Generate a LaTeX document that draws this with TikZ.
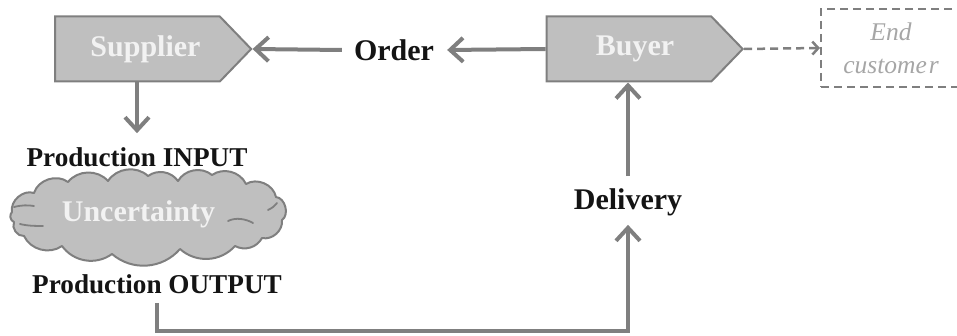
\documentclass[tikz,border=0pt]{standalone}
\usepackage{fontspec}
\setmainfont{Liberation Serif}
\usetikzlibrary{arrows.meta,shapes.symbols,calc}
\definecolor{edgegray}{HTML}{7F7F7F}
\definecolor{boxgray}{HTML}{BFBFBF}
\definecolor{paletext}{HTML}{F2F2F2}
\definecolor{softtext}{HTML}{A6A6A6}
\definecolor{inktext}{HTML}{141414}
\tikzset{
  actor/.style={shape=signal, signal to=east, signal pointer angle=92,
    draw=edgegray, fill=boxgray, line width=2pt, inner sep=0pt,
    minimum width=196pt, minimum height=65pt,
    text=paletext, font=\fontsize{30}{34}\selectfont\bfseries},
  label/.style={text=inktext, inner sep=2pt, font=\fontsize{30}{34}\selectfont\bfseries},
  stage/.style={text=inktext, inner sep=2pt, font=\fontsize{27.2}{32}\selectfont\bfseries},
  flow/.style={draw=edgegray, line width=4pt,
    -{Straight Barb[length=13pt,width=24pt,line width=4pt]}},
  hint/.style={draw=edgegray, line width=2.5pt, dash pattern=on 8pt off 5pt,
    -{Straight Barb[length=6pt,width=13pt,line width=2.5pt]}},
  puff/.style={bend left=#1},
}
\begin{document}
\begin{tikzpicture}[x=1pt,y=-1pt]
\useasboundingbox (0,0) rectangle (957,336);
% actors
\node[actor] (sup) at (137.5,49) {\hspace*{16pt}Supplier};
\node[actor] (buy) at (629,49) {\hspace*{12pt}Buyer};
% end customer (optional stage)
\node[draw=edgegray, line width=2pt, dash pattern=on 8pt off 5pt,
  minimum width=150pt, minimum height=78pt, inner sep=0pt, align=center,
  text=softtext, font=\fontsize{25.5}{33}\selectfont\itshape]
  (endc) at (896,48) {\hspace*{-10pt}End\\\hspace*{-10pt}custome\kern2pt r};
% flow labels
\node[label] (ord) at (394,50) {Order};
\node[label] (del) at (628,202) {Delivery};
\node[stage] (pin) at (137,157) {Production INPUT};
\node[stage] (pout) at (157,284) {Production OUTPUT};
% uncertainty cloud, traced puff by puff
\draw[edgegray, fill=boxgray, line width=2pt, line join=round]
  (12,212) to[puff=60] (34,193) to[puff=55] (68,182) to[puff=50] (108,181)
  to[puff=50] (148,176) to[puff=45] (178,181) to[puff=50] (212,175)
  to[puff=50] (246,184) to[puff=55] (276,197) to[puff=70] (282,220)
  to[puff=55] (262,238) to[puff=45] (235,246) to[puff=45] (180,249)
  to[puff=45] (112,254) to[puff=45] (62,246) to[puff=50] (24,236)
  to[puff=60] (14,222) to[puff=60] cycle;
\draw[edgegray, line width=1.8pt, line cap=round]
  (14,207) .. controls (22,205) and (28,205) .. (34,206)
  (20,224) .. controls (28,226) and (36,226) .. (43,226)
  (228,221) .. controls (236,217) and (246,219) .. (253,223)
  (268,210) .. controls (272,208) and (275,206) .. (277,203);
\node[text=paletext, inner sep=0pt, font=\fontsize{30}{34}\selectfont\bfseries]
  (unc) at (138.5,214) {Uncertainty};
% connectors
\draw[flow] ([xshift=-10pt]ord.west) -- (sup.east);
\draw[flow] (buy.west) -- ([xshift=11pt]ord.east);
\draw[flow] (sup.south -| pin.north) -- ([yshift=12pt]pin.north);
\draw[flow] ([yshift=10pt]del.north) -- (buy.south -| del.north);
\draw[flow] ([yshift=-7pt]pout.south) -- ++(0,28) -| ([yshift=-7pt]del.south);
\draw[hint] (buy.east) -- (endc.west);
\end{tikzpicture}
\end{document}
